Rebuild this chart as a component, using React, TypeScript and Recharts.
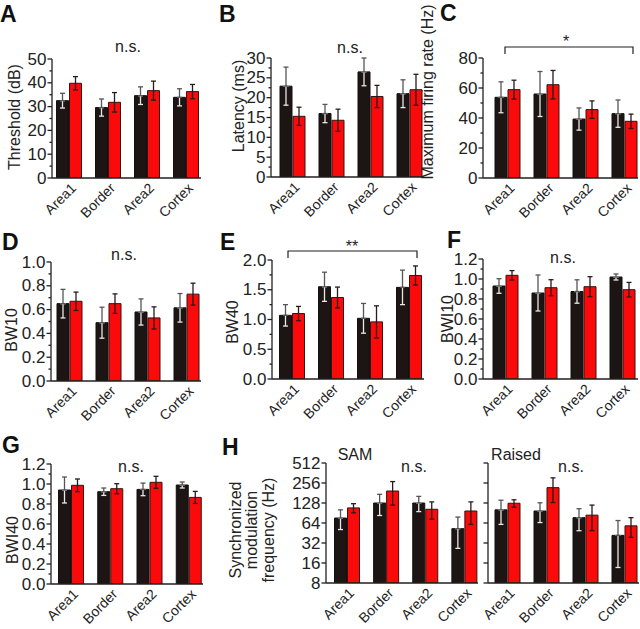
import React from 'react';
import { BarChart, Bar, XAxis, YAxis, ErrorBar } from 'recharts';

// ---------- data ----------
const categories = ['Area1', 'Border', 'Area2', 'Cortex'];

const thresholdBlack = [32.5, 29.6, 34.6, 33.9];
const thresholdBlackErr = [3.1, 3.6, 3.7, 3.6];
const thresholdRed = [39.8, 31.8, 36.7, 36.3];
const thresholdRedErr = [2.8, 4.1, 4.0, 3.0];

const latencyBlack = [22.9, 16.0, 26.5, 21.0];
const latencyBlackErr = [4.8, 2.3, 3.5, 3.5];
const latencyRed = [15.3, 14.3, 20.3, 22.0];
const latencyRedErr = [2.3, 2.8, 2.8, 3.9];

const firingBlack = [53.8, 56.0, 39.3, 42.9];
const firingBlackErr = [10.3, 15.0, 7.4, 9.1];
const firingRed = [58.9, 62.2, 45.6, 37.8];
const firingRedErr = [6.3, 9.5, 5.8, 4.8];

const bw10Black = [0.65, 0.49, 0.58, 0.615];
const bw10BlackErr = [0.12, 0.13, 0.11, 0.12];
const bw10Red = [0.67, 0.65, 0.53, 0.73];
const bw10RedErr = [0.077, 0.082, 0.093, 0.092];

const bw40Black = [1.07, 1.55, 1.02, 1.54];
const bw40BlackErr = [0.18, 0.245, 0.25, 0.29];
const bw40Red = [1.1, 1.37, 0.96, 1.74];
const bw40RedErr = [0.12, 0.175, 0.27, 0.16];

const bwi10Black = [0.93, 0.86, 0.875, 1.02];
const bwi10BlackErr = [0.073, 0.18, 0.117, 0.03];
const bwi10Red = [1.037, 0.913, 0.923, 0.893];
const bwi10RedErr = [0.047, 0.08, 0.1, 0.073];

const bwi40Black = [0.94, 0.923, 0.946, 0.99];
const bwi40BlackErr = [0.13, 0.037, 0.063, 0.03];
const bwi40Red = [0.987, 0.953, 1.017, 0.866];
const bwi40RedErr = [0.063, 0.05, 0.06, 0.06];

const samBlack = [76, 128, 128, 52.6];
const samBlackErr = [25, 45, 33, 26];
const samRed = [108, 194, 103, 97];
const samRedErr = [17, 75, 30, 36];

const raisedBlack = [101, 97, 77, 41.7];
const raisedBlackErr = [40, 32, 28, 28];
const raisedRed = [127, 218, 84, 58];
const raisedRedErr = [16, 88, 35, 19];

// tick values
const ticksA = [0, 10, 20, 30, 40, 50];
const minorA = [5, 15, 25, 35, 45];
const ticksB = [0, 5, 10, 15, 20, 25, 30];
const minorB = [2.5, 7.5, 12.5, 17.5, 22.5, 27.5];
const ticksC = [0, 20, 40, 60, 80];
const minorC = [10, 30, 50, 70];
const ticksD = [0, 0.2, 0.4, 0.6, 0.8, 1.0];
const minorD = [0.1, 0.3, 0.5, 0.7, 0.9];
const ticksE = [0, 0.5, 1.0, 1.5, 2.0];
const minorE = [0.25, 0.75, 1.25, 1.75];
const ticksF = [0, 0.2, 0.4, 0.6, 0.8, 1.0, 1.2];
const minorF = [0.1, 0.3, 0.5, 0.7, 0.9, 1.1];
const ticksH = [8, 16, 32, 64, 128, 256, 512];

// ---------- styles ----------
const FONT = '"Liberation Sans", Arial, Helvetica, sans-serif';
const AXIS = '#231f1f';
const BLACK_FILL = '#1d1513';
const RED_FILL = '#fa0a0a';
const RED_STROKE = '#3a1010';

const YTick = (props: any) => {
  const { x, y, payload, majors, showLabel, dec } = props;
  const v = payload.value;
  const isMajor = majors.some((m: number) => Math.abs(m - v) < 1e-9);
  const len = isMajor ? 4.5 : 2.5;
  return (
    <g>
      <line x1={x - len} x2={x} y1={y} y2={y} stroke={AXIS} strokeWidth={1.3} />
      {isMajor && showLabel && (
        <text x={x - 5.5} y={y} textAnchor="end" dominantBaseline="central" fontSize={17} fill="#222" fontFamily={FONT}>
          {v.toFixed(dec)}
        </text>
      )}
    </g>
  );
};

const XTick = (props: any) => {
  const { x, y, payload } = props;
  const tx = x + 8;
  const ty = y + 11;
  return (
    <text x={tx} y={ty} transform={`rotate(-45, ${tx}, ${ty})`} textAnchor="end" fontSize={14} fill="#222" fontFamily={FONT}>
      {payload.value}
    </text>
  );
};

type Cfg = {
  plotLeft: number; plotRight: number; plotTop: number; plotBottom: number;
  rangeL: number; rangeR: number; domain: [number, number];
  majors: number[]; minors: number[]; dec: number; log?: boolean; showLabel?: boolean; xh: number;
};

function Panel({ cfg, black, blackErr, red, redErr }: { cfg: Cfg; black: number[]; blackErr: number[]; red: number[]; redErr: number[] }) {
  const yw = 40, mt = 12, mr = 8, xh = cfg.xh;
  const left = cfg.plotLeft - yw;
  const top = cfg.plotTop - mt;
  const width = cfg.plotRight - cfg.plotLeft + yw + mr;
  const height = cfg.plotBottom - cfg.plotTop + mt + xh;
  const data = categories.map((c, i) => ({
    cat: c,
    black: black[i],
    red: red[i],
    bLo: [blackErr[i], 0],
    bHi: [0, blackErr[i]],
    rErr: redErr[i],
  }));
  const allTicks = [...cfg.majors, ...cfg.minors].sort((a, b) => a - b);
  return (
    <div style={{ position: 'absolute', left, top }}>
      <BarChart width={width} height={height} data={data} margin={{ top: mt, right: mr, left: 0, bottom: 0 }} barSize={12} barGap={1}>
        <XAxis
          dataKey="cat"
          height={xh}
          padding={{ left: cfg.rangeL - cfg.plotLeft, right: cfg.plotRight - cfg.rangeR }}
          tickLine={false}
          tickSize={0}
          tickMargin={0}
          interval={0}
          tick={<XTick />}
          axisLine={{ stroke: AXIS, strokeWidth: 1.3 }}
        />
        <YAxis
          type="number"
          width={yw}
          domain={cfg.domain}
          scale={cfg.log ? 'log' : 'linear'}
          allowDataOverflow
          ticks={allTicks}
          interval={0}
          tickSize={0}
          tickMargin={0}
          tickLine={false}
          tick={<YTick majors={cfg.majors} showLabel={cfg.showLabel !== false} dec={cfg.dec} />}
          axisLine={{ stroke: AXIS, strokeWidth: 1.3 }}
        />
        <Bar dataKey="black" fill={BLACK_FILL} stroke="#111" strokeWidth={1} isAnimationActive={false}>
          <ErrorBar dataKey="bLo" width={2.5} strokeWidth={1.3} stroke="#e8e8e8" direction="y" />
          <ErrorBar dataKey="bHi" width={2.5} strokeWidth={1.3} stroke="#555" direction="y" />
        </Bar>
        <Bar dataKey="red" fill={RED_FILL} stroke={RED_STROKE} strokeWidth={1} isAnimationActive={false}>
          <ErrorBar dataKey="rErr" width={2.5} strokeWidth={1.3} stroke="#2a1a1a" direction="y" />
        </Bar>
      </BarChart>
    </div>
  );
}

const cfgA: Cfg = { plotLeft: 52, plotRight: 201, plotTop: 59, plotBottom: 178, rangeL: 49.5, rangeR: 205.5, domain: [0, 50], majors: ticksA, minors: minorA, dec: 0, xh: 60 };
const cfgB: Cfg = { plotLeft: 271, plotRight: 424, plotTop: 58, plotBottom: 177, rangeL: 273, rangeR: 429, domain: [0, 30], majors: ticksB, minors: minorB, dec: 0, xh: 60 };
const cfgC: Cfg = { plotLeft: 483, plotRight: 638, plotTop: 58, plotBottom: 178, rangeL: 488, rangeR: 644, domain: [0, 80], majors: ticksC, minors: minorC, dec: 0, xh: 60 };
const cfgD: Cfg = { plotLeft: 51, plotRight: 201, plotTop: 262, plotBottom: 381, rangeL: 50, rangeR: 206, domain: [0, 1.0], majors: ticksD, minors: minorD, dec: 1, xh: 60 };
const cfgE: Cfg = { plotLeft: 272, plotRight: 424, plotTop: 260, plotBottom: 379, rangeL: 272.5, rangeR: 428.5, domain: [0, 2.0], majors: ticksE, minors: minorE, dec: 1, xh: 60 };
const cfgF: Cfg = { plotLeft: 483, plotRight: 638, plotTop: 259, plotBottom: 379, rangeL: 486, rangeR: 642, domain: [0, 1.2], majors: ticksF, minors: minorF, dec: 1, xh: 60 };
const cfgG: Cfg = { plotLeft: 51, plotRight: 203, plotTop: 464, plotBottom: 584, rangeL: 51.5, rangeR: 208.5, domain: [0, 1.2], majors: ticksF, minors: minorF, dec: 1, xh: 45 };
const cfgSAM: Cfg = { plotLeft: 326, plotRight: 478, plotTop: 463, plotBottom: 583, rangeL: 327.5, rangeR: 484, domain: [8, 512], majors: ticksH, minors: [], dec: 0, log: true, xh: 46 };
const cfgRaised: Cfg = { plotLeft: 488, plotRight: 639, plotTop: 463, plotBottom: 583, rangeL: 488, rangeR: 644, domain: [8, 512], majors: ticksH, minors: [], dec: 0, log: true, showLabel: false, xh: 46 };

const letters = [
  { t: 'A', x: 0, y: 22 }, { t: 'B', x: 219, y: 22 }, { t: 'C', x: 440, y: 21 },
  { t: 'D', x: 2, y: 250 }, { t: 'E', x: 220, y: 250 }, { t: 'F', x: 447, y: 248 },
  { t: 'G', x: 2, y: 453 }, { t: 'H', x: 222, y: 455 },
];
const yLabels = [
  { t: 'Threshold (dB)', x: 14, y: 117 },
  { t: 'Latency (ms)', x: 238, y: 106 },
  { t: 'Maximum firing rate (Hz)', x: 427, y: 92 },
  { t: 'BW10', x: 11, y: 330 },
  { t: 'BW40', x: 232, y: 322 },
  { t: 'BWI10', x: 447, y: 319 },
  { t: 'BWI40', x: 12, y: 540 },
  { t: 'Synchronized', x: 235, y: 530 },
  { t: 'modulation', x: 251, y: 530 },
  { t: 'frequency (Hz)', x: 268, y: 530 },
];
const notes = [
  { t: 'n.s.', x: 128, y: 52 }, { t: 'n.s.', x: 350, y: 53 },
  { t: 'n.s.', x: 124, y: 260 }, { t: 'n.s.', x: 563, y: 263 },
  { t: 'n.s.', x: 131, y: 472 }, { t: 'n.s.', x: 414, y: 472 }, { t: 'n.s.', x: 571, y: 472 },
  { t: 'SAM', x: 355, y: 460 }, { t: 'Raised', x: 516, y: 460 },
];

export default function App() {
  return (
    <div style={{ position: 'absolute', left: 0, top: 0, width: 640, height: 629, overflow: 'hidden', background: '#fff' }}>
      <Panel cfg={cfgA} black={thresholdBlack} blackErr={thresholdBlackErr} red={thresholdRed} redErr={thresholdRedErr} />
      <Panel cfg={cfgB} black={latencyBlack} blackErr={latencyBlackErr} red={latencyRed} redErr={latencyRedErr} />
      <Panel cfg={cfgC} black={firingBlack} blackErr={firingBlackErr} red={firingRed} redErr={firingRedErr} />
      <Panel cfg={cfgD} black={bw10Black} blackErr={bw10BlackErr} red={bw10Red} redErr={bw10RedErr} />
      <Panel cfg={cfgE} black={bw40Black} blackErr={bw40BlackErr} red={bw40Red} redErr={bw40RedErr} />
      <Panel cfg={cfgF} black={bwi10Black} blackErr={bwi10BlackErr} red={bwi10Red} redErr={bwi10RedErr} />
      <Panel cfg={cfgG} black={bwi40Black} blackErr={bwi40BlackErr} red={bwi40Red} redErr={bwi40RedErr} />
      <Panel cfg={cfgSAM} black={samBlack} blackErr={samBlackErr} red={samRed} redErr={samRedErr} />
      <Panel cfg={cfgRaised} black={raisedBlack} blackErr={raisedBlackErr} red={raisedRed} redErr={raisedRedErr} />
      <svg width={640} height={629} style={{ position: 'absolute', left: 0, top: 0, pointerEvents: 'none' }} fontFamily={FONT}>
        {letters.map((l) => (
          <text key={l.t} x={l.x} y={l.y} fontSize={23} fontWeight="bold" fill="#111">{l.t}</text>
        ))}
        {yLabels.map((l) => (
          <text key={l.t} x={l.x} y={l.y} transform={`rotate(-90, ${l.x}, ${l.y})`} textAnchor="middle" dominantBaseline="central" fontSize={16} fill="#222">{l.t}</text>
        ))}
        {notes.map((n, i) => (
          <text key={i} x={n.x} y={n.y} textAnchor="middle" fontSize={16} fill="#222">{n.t}</text>
        ))}
        <path d="M505,54 L505,47 L633,47 L633,54" fill="none" stroke={AXIS} strokeWidth={1.2} />
        <text x={566} y={47} textAnchor="middle" fontSize={16} fill="#222">*</text>
        <path d="M288,258 L288,251 L417,251 L417,258" fill="none" stroke={AXIS} strokeWidth={1.2} />
        <text x={352} y={252} textAnchor="middle" fontSize={16} fill="#222">**</text>
      </svg>
    </div>
  );
}
